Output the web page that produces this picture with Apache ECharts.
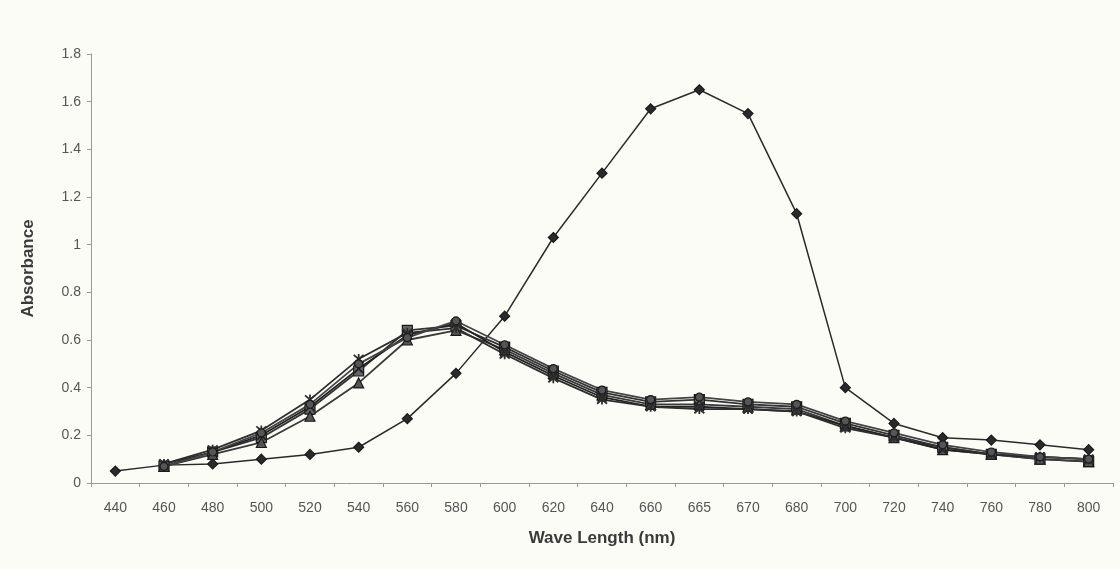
<!DOCTYPE html>
<html>
<head>
<meta charset="utf-8">
<script src="https://cdn.jsdelivr.net/npm/echarts@6/dist/echarts.min.js"></script>
<style>
html,body{margin:0;padding:0;background:#fcfcf6;}
#c{width:1120px;height:569px;}
</style>
</head>
<body>
<div id="c"></div>
<script>
const categories = ['440','460','480','500','520','540','560','580','600','620','640','660','665','670','680','700','720','740','760','780','800'];
const yTicks = [0,0.2,0.4,0.6,0.8,1,1.2,1.4,1.6,1.8];
const seriesDiamond = [0.05,0.075,0.08,0.10,0.12,0.15,0.27,0.46,0.70,1.03,1.30,1.57,1.65,1.55,1.13,0.40,0.25,0.19,0.18,0.16,0.14];
const seriesSquare  = [null,0.07,0.13,0.19,0.31,0.47,0.64,0.66,0.57,0.47,0.38,0.34,0.35,0.33,0.32,0.25,0.20,0.15,0.12,0.10,0.09];
const seriesTriangle= [null,0.07,0.12,0.17,0.28,0.42,0.60,0.64,0.56,0.46,0.37,0.33,0.33,0.32,0.31,0.24,0.19,0.14,0.12,0.10,0.09];
const seriesCross   = [null,0.08,0.13,0.20,0.32,0.48,0.62,0.67,0.55,0.45,0.36,0.32,0.32,0.31,0.30,0.24,0.19,0.14,0.12,0.11,0.10];
const seriesStar    = [null,0.08,0.14,0.22,0.35,0.52,0.63,0.65,0.54,0.44,0.35,0.32,0.31,0.31,0.30,0.23,0.19,0.15,0.12,0.11,0.10];
const seriesCircle  = [null,0.07,0.13,0.21,0.33,0.50,0.61,0.68,0.58,0.48,0.39,0.35,0.36,0.34,0.33,0.26,0.21,0.16,0.13,0.11,0.10];

const chart = echarts.init(document.getElementById('c'), null, {renderer:'canvas'});
function mk(name, data, symbol, size, lineColor, fill, lw){
  return {
    name, type:'line', data, symbol, symbolSize:size, showSymbol:true, connectNulls:false,
    lineStyle:{color:lineColor, width:lw || 1.8},
    itemStyle:{color:fill, borderColor:'#1a1a1a', borderWidth:1.2},
    animation:false, z: 3
  };
}
const crossPath = 'path://M0,0L10,10M10,0L0,10';
const starPath = 'path://M0,0L10,10M10,0L0,10M5,-1L5,11';
chart.setOption({
  backgroundColor:'#fcfcf6',
  animation:false,
  grid:{left:91, right:7, top:54, bottom:86},
  xAxis:{
    type:'category', data:categories, boundaryGap:true,
    name:'Wave Length (nm)', nameLocation:'middle', nameGap:47,
    nameTextStyle:{fontFamily:'Liberation Sans', fontWeight:'bold', fontSize:17, color:'#3a3a3a'},
    axisLine:{show:true, lineStyle:{color:'#9a9a9a', width:1}},
    axisTick:{show:true, alignWithLabel:false, length:4, lineStyle:{color:'#9a9a9a'}},
    axisLabel:{fontFamily:'Liberation Sans', fontSize:14, color:'#555', margin:18, interval:0},
    splitLine:{show:false}
  },
  yAxis:{
    type:'value', min:0, max:1.8, interval:0.2,
    name:'Absorbance', nameLocation:'middle', nameGap:54, nameRotate:90,
    nameTextStyle:{fontFamily:'Liberation Sans', fontWeight:'bold', fontSize:17, color:'#3a3a3a'},
    axisLine:{show:true, lineStyle:{color:'#9a9a9a', width:1}},
    axisTick:{show:true, length:4, lineStyle:{color:'#9a9a9a'}},
    axisLabel:{fontFamily:'Liberation Sans', fontSize:14, color:'#555', margin:10,
      formatter: v => { const t = yTicks.find(x => Math.abs(x - v) < 1e-9); return t === undefined ? '' : String(t); }},
    splitLine:{show:false}
  },
  series:[
    mk('S1', seriesDiamond, 'diamond', 10, '#2a2a2a', '#2a2a2a', 1.5),
    mk('S2', seriesSquare, 'rect', 10, '#333', '#666'),
    mk('S3', seriesTriangle, 'triangle', 10, '#3a3a3a', '#555'),
    Object.assign(mk('S4', seriesCross, crossPath, 9, '#222', 'none'), {itemStyle:{color:'#222', borderColor:'#222', borderWidth:1.8}}),
    Object.assign(mk('S5', seriesStar, starPath, 10, '#2e2e2e', 'none'), {itemStyle:{color:'#2e2e2e', borderColor:'#2e2e2e', borderWidth:1.8}}),
    mk('S6', seriesCircle, 'circle', 8, '#444', '#555')
  ]
});
</script>
</body>
</html>
